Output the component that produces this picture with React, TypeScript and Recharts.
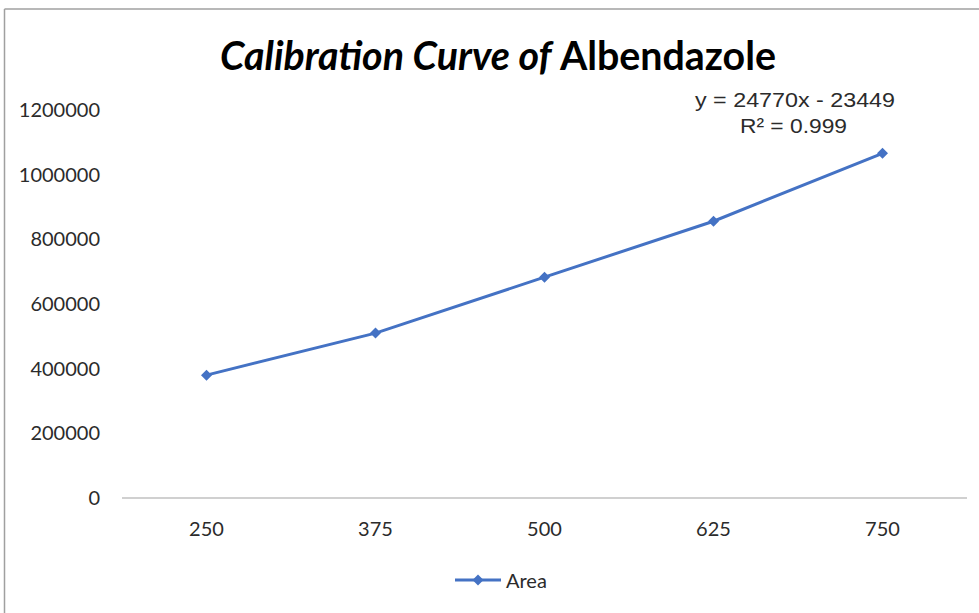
import React from 'react';
import { LineChart, Line, XAxis, YAxis, Legend } from 'recharts';

// concentration levels (category axis) and measured peak areas
const concentrations = ['250', '375', '500', '625', '750'];
const areaValues = [380000, 510000, 683000, 856000, 1066000];
const yTicks = [0, 200000, 400000, 600000, 800000, 1000000, 1200000];
const titleItalic = 'Calibration Curve of';
const titleRegular = 'Albendazole';
const equationLines = ['y = 24770x - 23449', 'R² = 0.999'];
const seriesName = 'Area';

const data = concentrations.map((c, i) => ({ conc: c, area: areaValues[i] }));

const BLUE = '#4472C4';
const TEXT = '#2b2b2b';
const FONT = 'Lato, "Open Sans", sans-serif';

const Diamond = (props: any) => {
  const { cx, cy, index } = props;
  if (cx == null || cy == null) return null;
  const r = 5.5;
  return (
    <polygon
      key={`d-${index}`}
      points={`${cx},${cy - r} ${cx + r},${cy} ${cx},${cy + r} ${cx - r},${cy}`}
      fill={BLUE}
    />
  );
};

const renderLegend = () => (
  <div style={{ display: 'flex', alignItems: 'center', fontFamily: FONT, fontSize: 20, color: TEXT }}>
    <svg width={48} height={14}>
      <line x1={1} y1={7} x2={47} y2={7} stroke={BLUE} strokeWidth={3} />
      <polygon points="24,1.5 29.5,7 24,12.5 18.5,7" fill={BLUE} />
    </svg>
    <span style={{ marginLeft: 4 }}>{seriesName}</span>
  </div>
);

export default function App() {
  return (
    <>
      <style>{'html,body{margin:0;padding:0;overflow:hidden;background:#fff}'}</style>
      <div style={{ position: 'relative', width: 979, height: 613, overflow: 'hidden', background: '#fff' }}>
        <div style={{ position: 'absolute', left: 0, top: 0 }}>
          <LineChart width={979} height={613} data={data} margin={{ top: 110, right: 12, left: 0, bottom: 0 }}>
            <XAxis
              dataKey="conc"
              scale="band"
              height={75}
              tickLine={false}
              tickSize={0}
              tickMargin={24}
              axisLine={{ stroke: '#c0c0c0', strokeWidth: 1.5 }}
              tick={{ fill: TEXT, fontSize: 20, fontFamily: FONT }}
            />
            <YAxis
              width={122}
              domain={[0, 1200000]}
              ticks={yTicks}
              axisLine={false}
              tickLine={false}
              tickSize={0}
              tickMargin={22}
              tick={{ fill: TEXT, fontSize: 20, fontFamily: FONT }}
            />
            <Legend
              verticalAlign="bottom"
              height={40}
              content={renderLegend}
              wrapperStyle={{ left: 454, top: 568, width: 'auto' }}
            />
            <Line
              dataKey="area"
              name={seriesName}
              stroke={BLUE}
              strokeWidth={3}
              dot={Diamond}
              activeDot={false}
              isAnimationActive={false}
            />
          </LineChart>
        </div>
        <svg width={979} height={613} style={{ position: 'absolute', left: 0, top: 0, pointerEvents: 'none' }}>
          <line x1={4.5} y1={9} x2={979} y2={9} stroke="#a0a0a0" strokeWidth={1.5} />
          <line x1={4.5} y1={9} x2={4.5} y2={613} stroke="#a0a0a0" strokeWidth={1.5} />
          <text
            x={220}
            y={70}
            fontFamily={FONT}
            fontSize={40}
            fontWeight={700}
            fill="#000"
            textLength={556}
            lengthAdjust="spacingAndGlyphs"
          >
            <tspan fontStyle="italic">{titleItalic}</tspan>
            <tspan> {titleRegular}</tspan>
          </text>
          <text
            x={695}
            y={107}
            fontFamily='"Liberation Sans", Arial, sans-serif'
            fontSize={20}
            fill={TEXT}
            textLength={200}
            lengthAdjust="spacingAndGlyphs"
          >
            {equationLines[0]}
          </text>
          <text
            x={740}
            y={133}
            fontFamily='"Liberation Sans", Arial, sans-serif'
            fontSize={20}
            fill={TEXT}
            textLength={107}
            lengthAdjust="spacingAndGlyphs"
          >
            {equationLines[1]}
          </text>
        </svg>
      </div>
    </>
  );
}
